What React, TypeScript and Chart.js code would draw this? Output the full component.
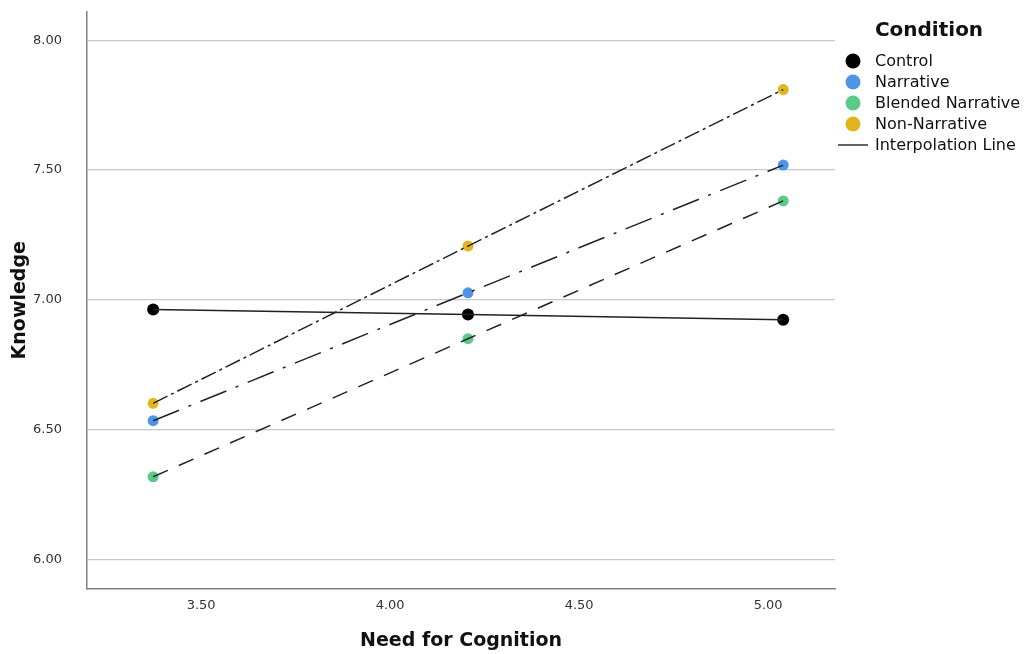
import React, { useEffect, useRef } from "react";
import { Chart, registerables } from "chart.js";

Chart.register(...registerables);

// ---- data ----
const xValues = [3.373, 4.206, 5.04];
const controlValues = [6.963, 6.943, 6.923];
const narrativeValues = [6.534, 7.027, 7.519];
const blendedValues = [6.318, 6.85, 7.381];
const nonNarrativeValues = [6.601, 7.207, 7.81];
const xTicks = [3.5, 4.0, 4.5, 5.0];
const yTicks = [6.0, 6.5, 7.0, 7.5, 8.0];
const conditionNames = ["Control", "Narrative", "Blended Narrative", "Non-Narrative"];
const legendTitle = "Condition";
const lineLegendLabel = "Interpolation Line";
const xTitle = "Need for Cognition";
const yTitle = "Knowledge";

// ---- styles ----
const FONT = '"DejaVu Sans", "Open Sans", sans-serif';
const pointColors = ["#000000", "#4e94e8", "#5bc98a", "#e2b520"];
const lineDashes: number[][] = [[], [28, 10, 3, 10], [16, 12], [16, 4, 3, 4]];

const legendPlugin = {
  id: "conditionLegend",
  afterDraw(chart: any) {
    const ctx = chart.ctx as CanvasRenderingContext2D;
    const cx = 853;
    const textX = 875;
    const startY = 61;
    const step = 21;
    ctx.save();
    ctx.textBaseline = "middle";
    ctx.fillStyle = "#111111";
    ctx.textAlign = "center";
    ctx.font = `bold 20px ${FONT}`;
    ctx.fillText(legendTitle, 929, 31);
    ctx.textAlign = "left";
    ctx.font = `16px ${FONT}`;
    conditionNames.forEach((name, i) => {
      const y = startY + i * step;
      ctx.beginPath();
      ctx.fillStyle = pointColors[i];
      ctx.arc(cx, y, 7.5, 0, Math.PI * 2);
      ctx.fill();
      ctx.fillStyle = "#111111";
      ctx.fillText(name, textX, y + 1);
    });
    const ly = startY + conditionNames.length * step;
    ctx.beginPath();
    ctx.strokeStyle = "#111111";
    ctx.lineWidth = 1.3;
    ctx.moveTo(838, ly);
    ctx.lineTo(868, ly);
    ctx.stroke();
    ctx.fillText(lineLegendLabel, textX, ly + 1);
    ctx.restore();
  },
};

export default function App() {
  const canvasRef = useRef<HTMLCanvasElement | null>(null);

  useEffect(() => {
    if (!canvasRef.current) return;
    const series = [controlValues, narrativeValues, blendedValues, nonNarrativeValues];
    const pointSets = series.map((vals, i) => ({
      label: conditionNames[i],
      data: xValues.map((x, j) => ({ x, y: vals[j] })),
      showLine: false,
      pointRadius: i === 0 ? 6 : 5.5,
      pointBackgroundColor: pointColors[i],
      pointBorderWidth: 0,
      pointHoverRadius: 6,
      order: 2,
    }));
    const lineSets = series.map((vals, i) => ({
      label: conditionNames[i] + " interpolation",
      data: xValues.map((x, j) => ({ x, y: vals[j] })),
      showLine: true,
      pointRadius: 0,
      borderColor: "#222222",
      borderWidth: 1.5,
      borderDash: lineDashes[i],
      fill: false,
      order: 1,
    }));

    const chart = new Chart(canvasRef.current, {
      type: "scatter",
      data: { datasets: [...pointSets, ...lineSets] as any },
      plugins: [legendPlugin],
      options: {
        animation: false,
        responsive: false,
        layout: { padding: { top: 12, right: 189, left: 0, bottom: 0 } },
        plugins: { legend: { display: false }, tooltip: { enabled: false } },
        scales: {
          x: {
            type: "linear",
            min: 3.198,
            max: 5.177,
            afterBuildTicks: (scale: any) => {
              scale.ticks = xTicks.map((v) => ({ value: v }));
            },
            afterFit: (scale: any) => {
              scale.height = 65.5;
            },
            grid: { display: false, drawOnChartArea: false, drawTicks: true, tickLength: 7, tickColor: "rgba(0,0,0,0)" },
            border: { display: true, color: "#808080", width: 1.5 },
            ticks: {
              padding: 2,
              color: "#333333",
              font: { family: FONT, size: 13 },
              callback: (v: any) => Number(v).toFixed(2),
            },
            title: {
              display: true,
              text: xTitle,
              color: "#111111",
              font: { family: FONT, size: 19, weight: "bold" },
              padding: { top: 0, bottom: 1.5 },
            },
          },
          y: {
            type: "linear",
            min: 5.8875,
            max: 8.109,
            afterBuildTicks: (scale: any) => {
              scale.ticks = yTicks.map((v) => ({ value: v }));
            },
            afterFit: (scale: any) => {
              scale.width = 87;
            },
            grid: {
              display: true,
              drawTicks: true,
              tickLength: 22,
              tickColor: "rgba(0,0,0,0)",
              color: "#c8c8c8",
              lineWidth: 1.3,
            },
            border: { display: true, color: "#808080", width: 1.5 },
            ticks: {
              padding: 3,
              color: "#333333",
              font: { family: FONT, size: 13 },
              callback: (v: any) => Number(v).toFixed(2),
            },
            title: {
              display: true,
              text: yTitle,
              color: "#111111",
              font: { family: FONT, size: 19, weight: "bold" },
              padding: { top: 9, bottom: 0 },
            },
          },
        },
      } as any,
    });
    return () => chart.destroy();
  }, []);

  return (
    <div style={{ position: "fixed", left: 0, top: 0, width: 1024, height: 654, background: "#ffffff" }}>
      <canvas ref={canvasRef} width={1024} height={654} style={{ display: "block" }} />
    </div>
  );
}
